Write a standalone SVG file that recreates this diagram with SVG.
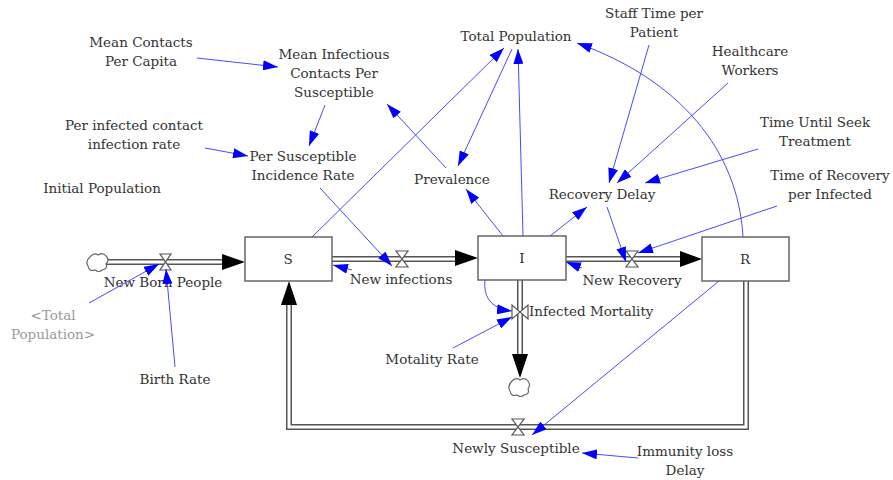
<svg xmlns="http://www.w3.org/2000/svg" width="893" height="480" viewBox="0 0 893 480">
<style>
text{font-family:"DejaVu Serif","Liberation Serif",serif;font-size:13.5px;fill:#333;text-anchor:middle}
.gray{fill:#999}
.box{fill:#fff;stroke:#666;stroke-width:1.5}
.pipeo{fill:none;stroke:#555;stroke-width:6}
.pipei{fill:none;stroke:#fff;stroke-width:3}
.valve{fill:#fff;stroke:#555;stroke-width:1.2}
.cloud{fill:#fff;stroke:#666;stroke-width:1.2}
.head{fill:#000}
.link{fill:none;stroke:#4a4aff;stroke-width:1;marker-end:url(#ah)}
</style>
<defs>
<marker id="ah" markerUnits="userSpaceOnUse" markerWidth="16" markerHeight="10" refX="15" refY="5" orient="auto">
<path d="M0,0 L15,5 L0,10 Z" fill="#0000ff"/>
</marker>
</defs>
<rect width="893" height="480" fill="#fff"/>

<g id="pipes">
<path class="pipeo" d="M106,262 H226"/><path class="pipei" d="M106,262 H226"/>
<path class="pipeo" d="M332,259 H458"/><path class="pipei" d="M332,259 H458"/>
<path class="pipeo" d="M566,259 H682"/><path class="pipei" d="M566,259 H682"/>
<path class="pipeo" d="M520,280 V357"/><path class="pipei" d="M520,280 V357"/>
<path class="pipeo" d="M746,281 V427 H289 V302"/><path class="pipei" d="M746,281 V427 H289 V302"/>
<path class="head" d="M222,254 L245,262 L222,270 Z"/>
<path class="head" d="M455,250 L478,258 L455,266 Z"/>
<path class="head" d="M680,251 L702,259 L680,267 Z"/>
<path class="head" d="M512,354 L520,378 L528,354 Z"/>
<path class="head" d="M281,305 L289,281 L297,305 Z"/>
</g>

<g id="cloud-source"><path class="cloud" d="M90,257 q4,-5 8,-2 q5,-3 8,1 q4,4 0,8 q2,5 -4,6 q-3,3 -7,0 q-6,2 -7,-4 q-3,-5 2,-9 Z"/></g>
<g id="cloud-sink"><path class="cloud" d="M512,381 q4,-4 8,-1 q5,-3 8,1 q3,4 0,8 q2,5 -4,6 q-3,3 -7,0 q-6,2 -7,-4 q-3,-5 2,-10 Z"/></g>

<g id="S"><rect class="box" x="245" y="237" width="87" height="44"/><text x="288" y="264">S</text></g>
<g id="I"><rect class="box" x="478" y="236" width="88" height="44"/><text x="522" y="263">I</text></g>
<g id="R"><rect class="box" x="702" y="237" width="87" height="44"/><text x="745" y="264">R</text></g>

<g id="NewBornPeople"><path class="valve" d="M160,254 H171 L160,270 H171 Z"/><text x="163" y="287">New Born People</text></g>
<g id="NewInfections"><path class="valve" d="M396,251 H408 L396,267 H408 Z"/><text x="401" y="284">New infections</text></g>
<g id="NewRecovery"><path class="valve" d="M626,251 H638 L626,267 H638 Z"/><text x="632" y="285">New Recovery</text></g>
<g id="InfectedMortality"><path class="valve" d="M512,305 V319 L528,305 V319 Z"/><text x="529" y="316" style="text-anchor:start">Infected Mortality</text></g>
<g id="NewlySusceptible"><path class="valve" d="M512,419 H524 L512,435 H524 Z"/><text x="516" y="453">Newly Susceptible</text></g>

<g id="MeanContacts"><text x="141" y="47">Mean Contacts</text><text x="141" y="66">Per Capita</text></g>
<g id="MeanInfectious"><text x="334" y="59">Mean Infectious</text><text x="334" y="78">Contacts Per</text><text x="334" y="97">Susceptible</text></g>
<g id="PerInfected"><text x="134" y="130">Per infected contact</text><text x="134" y="149">infection rate</text></g>
<g id="PerSusceptible"><text x="303" y="161">Per Susceptible</text><text x="303" y="180">Incidence Rate</text></g>
<g id="InitialPopulation"><text x="102" y="193">Initial Population</text></g>
<g id="Prevalence"><text x="452" y="184">Prevalence</text></g>
<g id="TotalPopulation"><text x="516" y="41">Total Population</text></g>
<g id="StaffTime"><text x="654" y="18">Staff Time per</text><text x="654" y="37">Patient</text></g>
<g id="Healthcare"><text x="750" y="56">Healthcare</text><text x="750" y="75">Workers</text></g>
<g id="TimeUntil"><text x="815" y="127">Time Until Seek</text><text x="815" y="146">Treatment</text></g>
<g id="TimeRecovery"><text x="830" y="180">Time of Recovery</text><text x="830" y="199">per Infected</text></g>
<g id="RecoveryDelay"><text x="602" y="199">Recovery Delay</text></g>
<g id="TotalPopulationShadow"><text class="gray" x="53" y="320">&lt;Total</text><text class="gray" x="53" y="339">Population&gt;</text></g>
<g id="BirthRate"><text x="175" y="384">Birth Rate</text></g>
<g id="MotalityRate"><text x="432" y="364">Motality Rate</text></g>
<g id="ImmunityLoss"><text x="685" y="456">Immunity loss</text><text x="685" y="475">Delay</text></g>

<g id="connectors">
<path class="link" d="M197,58 L278,67"/>
<path class="link" d="M325,105 L309,146"/>
<path class="link" d="M205,148 L248,156"/>
<path class="link" d="M446,168 L387,104"/>
<path class="link" d="M312,237 L504,48"/>
<path class="link" d="M320,188 L392,266"/>
<path class="link" d="M512,49 L458,166"/>
<path class="link" d="M523,236 L518,49"/>
<path class="link" d="M503,236 L466,189"/>
<path class="link" d="M550,236 L587,207"/>
<path class="link" d="M649,45 L609,183"/>
<path class="link" d="M728,83 L617,183"/>
<path class="link" d="M758,149 L645,183"/>
<path class="link" d="M777,206 L638,253"/>
<path class="link" d="M607,207 L626,262"/>
<path class="link" d="M743,237 C738,150 680,80 577,43"/>
<path class="link" d="M352,270 L333,265"/>
<path class="link" d="M582,268 L566,262"/>
<path class="link" d="M485,280 C483,300 494,309 512,311"/>
<path class="link" d="M453,348 L512,317"/>
<path class="link" d="M89,303 L159,264"/>
<path class="link" d="M175,367 L166,269"/>
<path class="link" d="M719,281 L532,435"/>
<path class="link" d="M638,458 L582,453"/>
</g>
</svg>
